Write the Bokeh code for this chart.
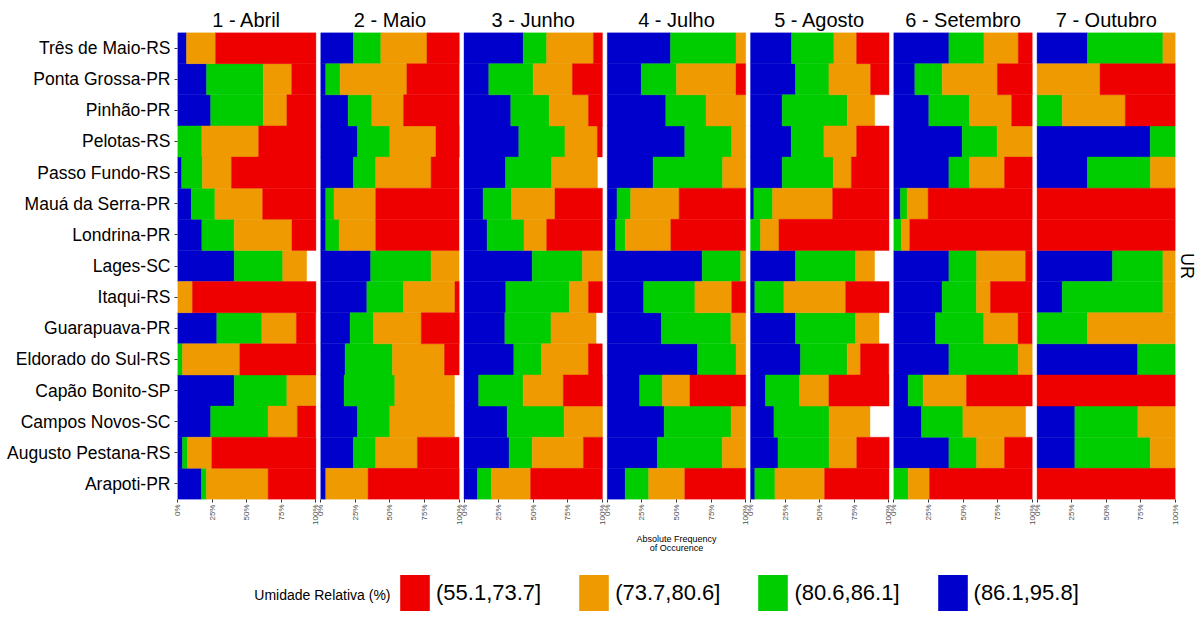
import numpy as np
from bokeh.plotting import figure
from bokeh.layouts import column
from bokeh.models import (ColumnDataSource, FactorRange, Range1d, FixedTicker,
                          Label, Legend, LegendItem, LinearAxis, Title)
from bokeh.embed import file_html
from bokeh.resources import INLINE

# ---------------- data ----------------
locations = ["Três de Maio-RS", "Ponta Grossa-PR", "Pinhão-PR", "Pelotas-RS",
             "Passo Fundo-RS", "Mauá da Serra-PR", "Londrina-PR", "Lages-SC",
             "Itaqui-RS", "Guarapuava-PR", "Eldorado do Sul-RS", "Capão Bonito-SP",
             "Campos Novos-SC", "Augusto Pestana-RS", "Arapoti-PR"]
months = ["1 - Abril", "2 - Maio", "3 - Junho", "4 - Julho",
          "5 - Agosto", "6 - Setembro", "7 - Outubro"]
classes = ["(55.1,73.7]", "(73.7,80.6]", "(80.6,86.1]", "(86.1,95.8]"]
tick_pcts = [0, 25, 50, 75, 100]

# percentages per month, class order: blue (86.1,95.8], green, orange, red
abril_blue   = [6.5, 21.0, 24.0, 0.0, 3.0, 10.0, 17.6, 41.0, 0.0, 28.4, 0.0, 41.0, 24.0, 3.6, 17.3]
abril_green  = [0.0, 41.0, 38.0, 17.6, 15.0, 17.0, 23.4, 35.0, 0.0, 32.5, 3.6, 38.0, 41.4, 3.6, 3.6]
abril_orange = [21.0, 20.5, 17.0, 41.0, 21.0, 34.5, 41.7, 17.3, 10.8, 25.0, 41.4, 21.0, 21.2, 17.6, 44.6]
abril_red    = [72.5, 17.5, 21.0, 41.4, 61.0, 38.5, 17.3, 0.0, 89.2, 14.0, 55.0, 0.0, 13.3, 75.2, 34.5]

maio_blue   = [23.6, 3.6, 19.8, 26.5, 23.6, 3.6, 3.6, 36.1, 33.3, 21.2, 17.6, 16.9, 26.5, 23.6, 3.6]
maio_green  = [19.8, 10.4, 17.1, 23.4, 16.1, 6.0, 9.6, 43.6, 26.5, 16.9, 34.2, 36.6, 23.4, 16.1, 0.0]
maio_orange = [33.3, 48.2, 22.9, 33.3, 40.0, 30.1, 26.5, 20.2, 37.1, 34.5, 37.6, 43.1, 46.7, 30.1, 30.6]
maio_red    = [23.4, 37.8, 40.2, 16.9, 20.2, 60.2, 60.2, 0.0, 3.1, 27.5, 10.6, 0.0, 0.0, 30.1, 65.8]

junho_blue   = [42.8, 17.9, 33.8, 39.6, 30.0, 13.8, 16.7, 49.3, 30.2, 29.5, 36.0, 10.6, 31.2, 32.6, 9.7]
junho_green  = [16.9, 32.1, 27.8, 33.3, 33.3, 20.5, 26.6, 36.2, 45.9, 33.3, 20.0, 32.1, 41.1, 16.7, 10.1]
junho_orange = [33.8, 28.3, 28.3, 23.4, 33.1, 31.4, 16.4, 14.5, 13.8, 32.6, 33.8, 29.0, 27.8, 37.0, 28.3]
junho_red    = [6.5, 21.7, 10.1, 3.6, 0.0, 34.3, 40.3, 0.0, 10.1, 0.0, 10.1, 28.3, 0.0, 13.8, 51.9]

julho_blue   = [45.7, 24.6, 42.3, 56.0, 33.1, 7.0, 6.0, 68.6, 26.3, 39.1, 65.2, 23.4, 41.1, 36.2, 13.0]
julho_green  = [47.3, 25.4, 29.0, 33.8, 50.2, 9.9, 7.0, 27.8, 37.0, 50.2, 27.8, 16.4, 48.3, 46.9, 16.9]
julho_orange = [7.0, 43.0, 28.7, 10.2, 16.7, 35.0, 32.9, 3.6, 26.6, 10.7, 7.0, 19.9, 10.6, 16.9, 26.1]
julho_red    = [0.0, 7.0, 0.0, 0.0, 0.0, 48.1, 54.1, 0.0, 10.1, 0.0, 0.0, 40.3, 0.0, 0.0, 44.0]

agosto_blue   = [29.6, 32.5, 22.9, 29.4, 22.9, 2.4, 0.0, 32.5, 3.1, 32.5, 36.1, 10.8, 16.9, 19.8, 3.1]
agosto_green  = [30.6, 24.1, 47.0, 23.6, 36.9, 13.5, 7.2, 43.4, 21.0, 43.4, 33.7, 24.6, 39.8, 36.9, 14.5]
agosto_orange = [16.4, 30.1, 19.8, 23.6, 13.0, 43.4, 13.3, 13.7, 44.6, 16.9, 9.6, 21.2, 29.6, 20.0, 35.9]
agosto_red    = [23.4, 13.3, 0.0, 23.4, 27.2, 40.7, 79.5, 0.0, 31.3, 0.0, 20.5, 43.4, 0.0, 23.4, 46.5]

setembro_blue   = [39.8, 15.2, 25.3, 49.4, 39.8, 4.8, 0.0, 39.8, 34.9, 30.1, 39.8, 10.4, 20.0, 39.8, 0.0]
setembro_green  = [25.3, 19.8, 29.4, 25.3, 14.9, 4.8, 5.5, 20.0, 24.8, 34.9, 50.1, 10.8, 29.9, 20.0, 10.4]
setembro_orange = [24.8, 39.8, 30.4, 25.3, 25.3, 15.2, 6.0, 35.4, 10.1, 24.8, 10.1, 31.3, 45.3, 20.2, 15.4]
setembro_red    = [10.1, 25.3, 14.9, 0.0, 20.0, 75.2, 88.4, 4.8, 30.1, 10.1, 0.0, 47.5, 0.0, 20.0, 74.2]

outubro_blue   = [36.4, 0.0, 0.0, 81.8, 36.4, 0.0, 0.0, 54.5, 18.2, 0.0, 72.7, 0.0, 27.3, 27.3, 0.0]
outubro_green  = [54.5, 0.0, 18.2, 18.2, 45.5, 0.0, 0.0, 36.4, 72.7, 36.4, 27.3, 0.0, 45.5, 54.5, 0.0]
outubro_orange = [9.1, 45.5, 45.5, 0.0, 18.2, 0.0, 0.0, 9.1, 9.1, 63.6, 0.0, 0.0, 27.3, 18.2, 0.0]
outubro_red    = [0.0, 54.5, 36.4, 0.0, 0.0, 100.0, 100.0, 0.0, 0.0, 0.0, 0.0, 100.0, 0.0, 0.0, 100.0]

month_data = [
    (abril_blue, abril_green, abril_orange, abril_red),
    (maio_blue, maio_green, maio_orange, maio_red),
    (junho_blue, junho_green, junho_orange, junho_red),
    (julho_blue, julho_green, julho_orange, julho_red),
    (agosto_blue, agosto_green, agosto_orange, agosto_red),
    (setembro_blue, setembro_green, setembro_orange, setembro_red),
    (outubro_blue, outubro_green, outubro_orange, outubro_red),
]

# ---------------- style ----------------
stack_colors = ["#0000CD", "#00CD00", "#EE9A00", "#EE0000"]  # blue, green, orange, red
legend_colors = ["#EE0000", "#EE9A00", "#00CD00", "#0000CD"]  # order of `classes`
FONT = "Liberation Sans"
PITCH = 103.5  # panel width (100 %) + gap between facets
W = 1203
H1 = 555
H2 = 64
LEFT = 177

# build per-class sources (stack order left->right: blue, green, orange, red)
srcs = [dict(y=[], left=[], right=[]) for _ in range(4)]
for k, series in enumerate(month_data):
    arr = np.array(series, dtype=float)          # 4 x 15
    cum = np.cumsum(arr, axis=0)
    starts = cum - arr
    off = k * PITCH
    for c in range(4):
        for i, loc in enumerate(locations):
            if arr[c, i] > 0:
                srcs[c]["y"].append(loc)
                srcs[c]["left"].append(off + starts[c, i])
                srcs[c]["right"].append(off + cum[c, i])

p = figure(width=W, height=H1,
           y_range=FactorRange(*reversed(locations)),
           x_range=Range1d(0, 6 * PITCH + 100),
           output_backend="svg", toolbar_location=None,
           min_border_left=LEFT, min_border_right=28,
           min_border_top=32, min_border_bottom=52)
p.y_range.range_padding = 0
p.outline_line_color = None
p.xgrid.visible = False
p.ygrid.visible = False

for c in range(4):
    p.hbar(y="y", left="left", right="right", height=1.0,
           source=ColumnDataSource(srcs[c]),
           fill_color=stack_colors[c], line_color=stack_colors[c], line_width=0.4)

# bottom axis: 0%..100% per facet
ticks = [k * PITCH + q for k in range(len(months)) for q in tick_pcts]
labels = {k * PITCH + q: f"{q}%" for k in range(len(months)) for q in tick_pcts}
xa = p.xaxis[0]
xa.ticker = FixedTicker(ticks=ticks)
xa.major_label_overrides = labels
xa.major_label_orientation = np.pi / 2
xa.major_label_text_font = FONT
xa.major_label_text_font_size = "8px"
xa.major_label_text_color = "#4D4D4D"
xa.major_label_standoff = 2
xa.axis_line_color = None
xa.major_tick_in = 0
xa.major_tick_out = 3
xa.major_tick_line_color = "#333333"
xa.minor_tick_line_color = None
xa.axis_label = "Absolute Frequency"
xa.axis_label_text_font = FONT
xa.axis_label_text_font_size = "9px"
xa.axis_label_text_font_style = "normal"
xa.axis_label_text_color = "black"
xa.axis_label_standoff = 6

xa2 = LinearAxis(ticker=FixedTicker(ticks=[]), axis_label="of Occurence",
                 axis_line_color=None, major_tick_line_color=None,
                 minor_tick_line_color=None, major_tick_out=0, major_tick_in=0,
                 major_label_standoff=0, axis_label_standoff=-4,
                 axis_label_text_font=FONT, axis_label_text_font_size="9px",
                 axis_label_text_font_style="normal", axis_label_text_color="black")
p.add_layout(xa2, "below")

# facet strip titles on a top axis
centers = [k * PITCH + 50 for k in range(len(months))]
top = LinearAxis(ticker=FixedTicker(ticks=centers),
                 major_label_overrides={c: m for c, m in zip(centers, months)},
                 axis_line_color=None, major_tick_line_color=None,
                 minor_tick_line_color=None, major_tick_out=0, major_tick_in=0,
                 major_label_standoff=2, major_label_text_font=FONT,
                 major_label_text_font_size="20px", major_label_text_color="black")
p.add_layout(top, "above")

# right strip "UR"
p.add_layout(Title(text="UR", align="center", standoff=2, offset=0,
                   text_font=FONT, text_font_size="18px", text_font_style="normal",
                   text_color="black"), "right")

ya = p.yaxis[0]
ya.major_label_text_font = FONT
ya.major_label_text_font_size = "17.5px"
ya.major_label_text_color = "black"
ya.major_label_standoff = 4
ya.axis_line_color = None
ya.major_tick_in = 0
ya.major_tick_out = 3
ya.major_tick_line_color = "#333333"

# ---------------- legend strip ----------------
p2 = figure(width=W, height=H2, x_range=Range1d(0, 1), y_range=Range1d(0, H2),
            x_axis_location=None, y_axis_location=None, min_border=0,
            output_backend="svg", toolbar_location=None)
p2.outline_line_color = None
p2.xgrid.visible = False
p2.ygrid.visible = False

# legend proxies (kept below the visible y range of the strip)
leg_renderers = [p2.hbar(y=[-1000], left=[0], right=[1], height=1.0,
                         fill_color=col, line_color=None) for col in legend_colors]
items = [LegendItem(label=cls, renderers=[r]) for cls, r in zip(classes, leg_renderers)]
legend = Legend(items=items, orientation="horizontal", location=(219, 4),
                glyph_width=37, glyph_height=45, label_standoff=3, spacing=34,
                padding=0, margin=0, border_line_color=None, background_fill_alpha=0,
                label_text_font=FONT, label_text_font_size="22px",
                label_text_color="black")
p2.add_layout(legend)
p2.add_layout(Label(x=213, y=25, x_units="screen", y_units="data",
                    text="Umidade Relativa (%)", text_align="right",
                    text_baseline="middle", text_font=FONT, text_font_size="14px",
                    text_color="black"))

open("out.html", "w").write(file_html(column(p, p2, spacing=0), INLINE))
